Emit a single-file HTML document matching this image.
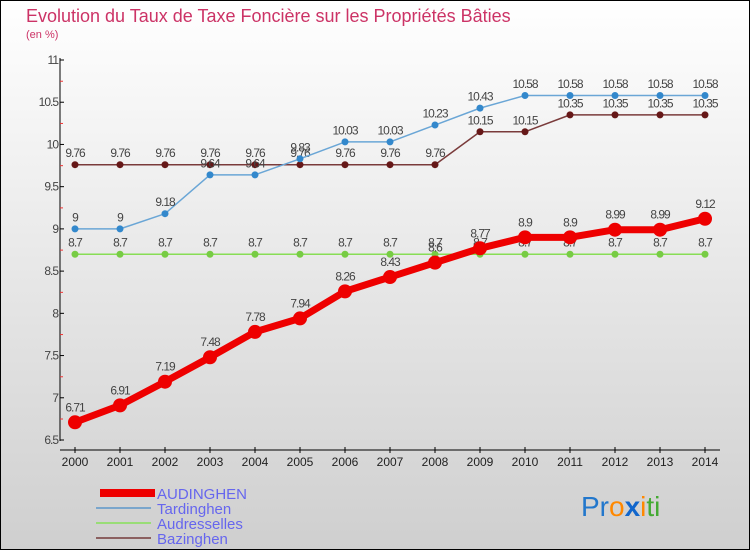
<!DOCTYPE html>
<html><head><meta charset="utf-8"><style>
body{margin:0;width:750px;height:550px;overflow:hidden;font-family:"Liberation Sans",sans-serif}
</style></head><body>
<svg width="750" height="550" xmlns="http://www.w3.org/2000/svg">
<defs><linearGradient id="bg" x1="0" y1="0" x2="0" y2="1"><stop offset="0" stop-color="#ffffff"/><stop offset="1" stop-color="#cfcfcf"/></linearGradient></defs>
<rect x="0.5" y="0.5" width="749" height="549" fill="url(#bg)" stroke="#000"/>
<text x="26" y="22" font-size="18" fill="#cc3366">Evolution du Taux de Taxe Foncière sur les Propriétés Bâties</text>
<text x="26" y="38" font-size="11" fill="#cc3366">(en %)</text>
<g id="axes"></g>
<g id="series"></g>
<g>
<rect x="100" y="489" width="55" height="8" fill="#ee0000"/>
<text x="157" y="499" font-size="15" fill="#6666ee">AUDINGHEN</text>
<rect x="96" y="507" width="55" height="2" fill="#7aa6cc"/>
<text x="157" y="514" font-size="15" fill="#6666ee">Tardinghen</text>
<rect x="96" y="522" width="55" height="2" fill="#99dd77"/>
<text x="157" y="529" font-size="15" fill="#6666ee">Audresselles</text>
<rect x="96" y="537" width="55" height="2" fill="#8b6060"/>
<text x="157" y="544" font-size="15" fill="#6666ee">Bazinghen</text>
</g>
<text x="581" y="516" font-size="28"><tspan fill="#2277cc">Pr</tspan><tspan fill="#ff8800">o</tspan><tspan fill="#1166cc" font-weight="bold">x</tspan><tspan fill="#ff8800">i</tspan><tspan fill="#44aa33">ti</tspan></text>
</svg>
<script>
const years=[2000,2001,2002,2003,2004,2005,2006,2007,2008,2009,2010,2011,2012,2013,2014];
const yTicks=[6.5,7,7.5,8,8.5,9,9.5,10,10.5,11];
const audinghen=[6.71,6.91,7.19,7.48,7.78,7.94,8.26,8.43,8.6,8.77,8.9,8.9,8.99,8.99,9.12];
const tardinghen=[9,9,9.18,9.64,9.64,9.83,10.03,10.03,10.23,10.43,10.58,10.58,10.58,10.58,10.58];
const audresselles=[8.7,8.7,8.7,8.7,8.7,8.7,8.7,8.7,8.7,8.7,8.7,8.7,8.7,8.7,8.7];
const bazinghen=[9.76,9.76,9.76,9.76,9.76,9.76,9.76,9.76,9.76,10.15,10.15,10.35,10.35,10.35,10.35];
const NS="http://www.w3.org/2000/svg";
const xs=i=>75+i*45;
const ys=v=>440-(v-6.5)/4.5*380;
function mk(t,a,p){const e=document.createElementNS(NS,t);for(const k in a)e.setAttribute(k,a[k]);p.appendChild(e);return e;}
const ax=document.getElementById('axes');
const yl=mk('line',{x1:60,y1:58,x2:60,y2:441,stroke:'#000'},ax);


const xl=mk('line',{x1:60,y1:450,x2:720,y2:450,stroke:'#000'},ax);


yTicks.forEach(v=>{const y=ys(v);
mk('line',{x1:60,y1:y,x2:64,y2:y,stroke:'#000'},ax);
if(v<11)mk('line',{x1:60,y1:y-21,x2:63,y2:y-21,stroke:'#e33'},ax);
const t=mk('text',{x:58,y:y+4,'font-size':12,fill:'#444','text-anchor':'end','letter-spacing':'-1'},ax);t.textContent=v;

});
years.forEach((yr,i)=>{const x=xs(i);
mk('line',{x1:x,y1:447,x2:x,y2:453,stroke:'#000'},ax);
const t=mk('text',{x:x,y:466,'font-size':12,fill:'#222','text-anchor':'middle'},ax);t.textContent=yr;

});
const sg=document.getElementById('series');
function series(name,data,color,w,r,ptColor){
const g=mk('g',{},sg);


const pl=mk('polyline',{points:data.map((v,i)=>xs(i)+','+ys(v)).join(' '),fill:'none',stroke:color,'stroke-width':w,'stroke-linejoin':'round'},g);


data.forEach((v,i)=>{const c=mk('circle',{cx:xs(i),cy:ys(v),r:r,fill:ptColor},g);


const t=mk('text',{x:xs(i),y:ys(v)-r-4,'font-size':12,fill:'#444','text-anchor':'middle','letter-spacing':'-1'},g);t.textContent=v;

});
}
series('audresselles',audresselles,'#88dd55',1.5,3.5,'#77cc44');
series('bazinghen',bazinghen,'#7a3b3b',1.5,3.5,'#661818');
series('tardinghen',tardinghen,'#6aa6d6',1.5,3.5,'#3388cc');
series('audinghen',audinghen,'#ee0000',7,7,'#ee0000');
</script>
</body></html>
